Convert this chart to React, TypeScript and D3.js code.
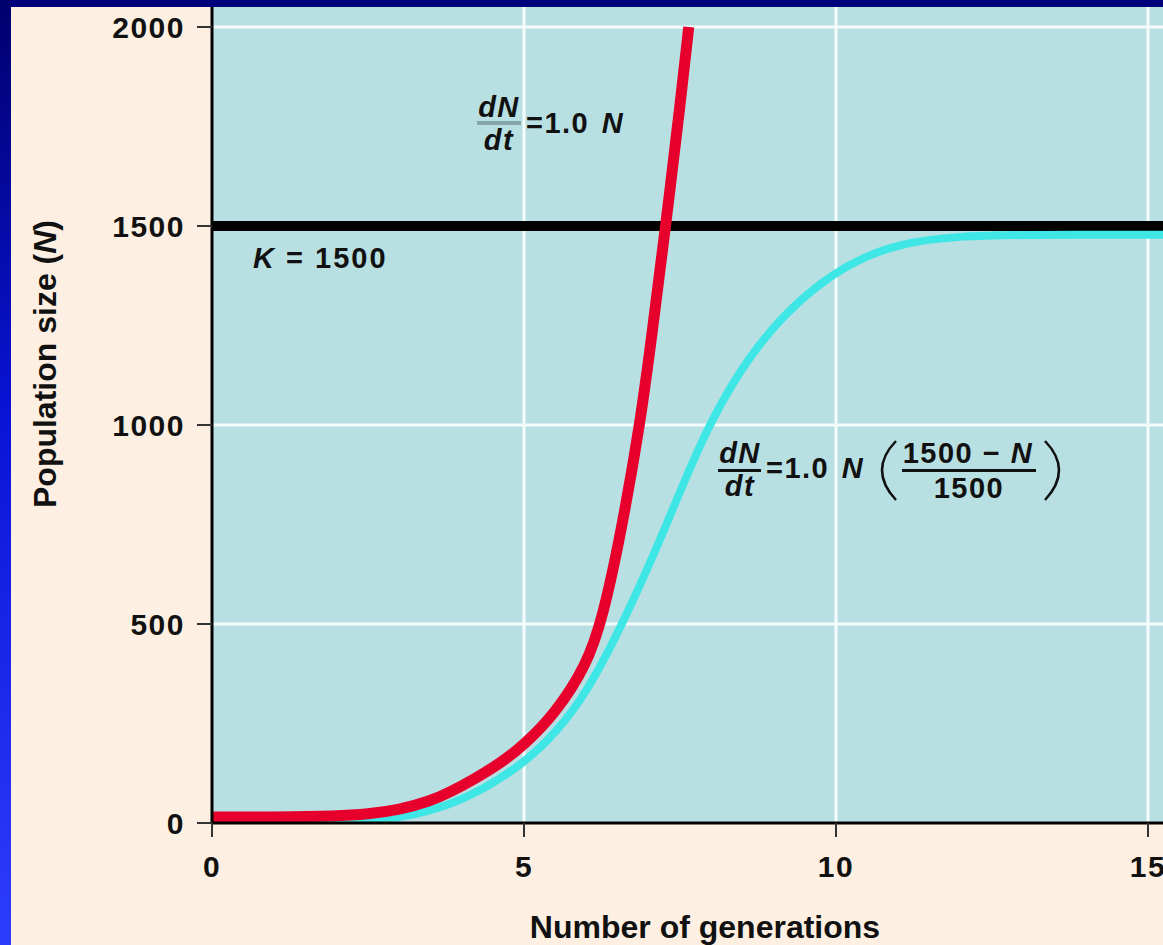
import React from "react";
import * as d3 from "d3";

// Axis ticks and grid positions
const xTicks = [0, 5, 10, 15];
const yTicks = [0, 500, 1000, 1500, 2000];
const gridX = [5, 10, 15];
const gridY = [500, 1000, 2000];
const carryingCapacity = 1500;

// Exponential growth: dN/dt = 1.0 N
const expT = [0, 1, 2, 2.5, 3, 3.5, 3.82, 4.2, 4.62, 5, 5.5, 6, 6.26, 6.55, 6.87, 7.06, 7.27, 7.51, 7.64];
const expN = [15, 15, 17, 22, 33, 55, 78, 110, 150, 196, 275, 395, 515, 725, 1010, 1240, 1500, 1815, 2000];

// Logistic growth: dN/dt = 1.0 N (1500 - N) / 1500
const logT = [0, 2, 2.7, 3.2, 3.8, 4.3, 5, 5.5, 6, 6.6, 7.3, 7.9, 8.8, 10, 11, 12, 13, 15.3];
const logN = [5, 5, 8, 18, 45, 80, 150, 225, 325, 505, 752, 990, 1228, 1395, 1458, 1475, 1478, 1478];

const FONT = "'Liberation Sans', Arial, Helvetica, sans-serif";

export default function App() {
  const W = 1163;
  const H = 945;
  const plotLeft = 212;
  const plotTop = 7;
  const plotBottom = 823;

  const x = d3.scaleLinear().domain([0, 15]).range([plotLeft, 1148]);
  const y = d3.scaleLinear().domain([0, 2000]).range([plotBottom, 27]);

  const line = d3
    .line<[number, number]>()
    .x((d) => x(d[0]))
    .y((d) => y(d[1]))
    .curve(d3.curveBasis);

  const expPath = line(expT.map((t, i) => [t, expN[i]] as [number, number])) || "";
  const logPath = line(logT.map((t, i) => [t, logN[i]] as [number, number])) || "";

  return (
    <svg
      width={W}
      height={H}
      viewBox={`0 0 ${W} ${H}`}
      style={{ position: "absolute", left: 0, top: 0, display: "block" }}
      fontFamily={FONT}
    >
      <defs>
        <linearGradient id="sideBar" x1="0" y1="0" x2="0" y2="1">
          <stop offset="0%" stopColor="#00006e" />
          <stop offset="45%" stopColor="#0a14d8" />
          <stop offset="100%" stopColor="#2d3dff" />
        </linearGradient>
        <clipPath id="plotClip">
          <rect x={plotLeft} y={plotTop} width={W - plotLeft} height={plotBottom - plotTop} />
        </clipPath>
      </defs>

      {/* page background */}
      <rect x={0} y={0} width={W} height={H} fill="#fdf0e2" />
      <rect x={0} y={0} width={W} height={7} fill="#00007c" />
      <rect x={0} y={0} width={11} height={H} fill="url(#sideBar)" />

      {/* plot panel */}
      <rect x={plotLeft} y={plotTop} width={W - plotLeft} height={plotBottom - plotTop} fill="#b8e0e3" />

      {/* grid */}
      <g stroke="#f4fbfb" strokeWidth={3}>
        {gridY.map((v) => (
          <line key={"gy" + v} x1={plotLeft} x2={W} y1={y(v)} y2={y(v)} />
        ))}
        {gridX.map((v) => (
          <line key={"gx" + v} x1={x(v)} x2={x(v)} y1={plotTop} y2={plotBottom} />
        ))}
      </g>

      {/* carrying capacity */}
      <line
        x1={plotLeft}
        x2={W}
        y1={y(carryingCapacity)}
        y2={y(carryingCapacity)}
        stroke="#000"
        strokeWidth={10}
      />

      {/* growth curves */}
      <g clipPath="url(#plotClip)" fill="none">
        <path d={logPath} stroke="#3fe6e6" strokeWidth={8} />
        <path d={expPath} stroke="#e8002c" strokeWidth={11} />
      </g>

      {/* axes */}
      <line x1={plotLeft} x2={plotLeft} y1={plotTop} y2={plotBottom + 1} stroke="#000" strokeWidth={3} />
      <line x1={plotLeft} x2={W} y1={plotBottom} y2={plotBottom} stroke="#000" strokeWidth={3} />

      {/* y ticks */}
      <g>
        {yTicks.map((v) => (
          <g key={"yt" + v}>
            <line x1={197} x2={plotLeft} y1={y(v)} y2={y(v)} stroke="#333" strokeWidth={2} />
            <text
              x={185}
              y={y(v)}
              dy="0.36em"
              textAnchor="end"
              fontSize={30}
              fontWeight="bold"
              letterSpacing={1.5}
              fill="#111"
            >
              {v}
            </text>
          </g>
        ))}
      </g>

      {/* x ticks */}
      <g>
        {xTicks.map((v) => (
          <g key={"xt" + v}>
            <line x1={x(v)} x2={x(v)} y1={plotBottom} y2={plotBottom + 14} stroke="#333" strokeWidth={2} />
            <text
              x={x(v)}
              y={877}
              textAnchor="middle"
              fontSize={30}
              fontWeight="bold"
              letterSpacing={1.5}
              fill="#111"
            >
              {v}
            </text>
          </g>
        ))}
      </g>

      {/* axis titles */}
      <text x={705} y={938} textAnchor="middle" fontSize={32} fontWeight="bold" fill="#111">
        Number of generations
      </text>
      <text
        transform="translate(56,364) rotate(-90)"
        textAnchor="middle"
        fontSize={32}
        fontWeight="bold"
        fill="#111"
      >
        Population size (<tspan fontStyle="italic">N</tspan>)
      </text>

      {/* K label */}
      <text x={253} y={268} fontSize={29} fontWeight="bold" letterSpacing={2} fill="#111">
        <tspan fontStyle="italic">K</tspan> = 1500
      </text>

      {/* exponential equation */}
      <g fontWeight="bold" fill="#111" fontSize={29} letterSpacing={1.5}>
        <text x={499} y={117} textAnchor="middle" fontStyle="italic">dN</text>
        <rect x={477} y={121} width={44} height={4} fill="#86a6a8" />
        <text x={499} y={150} textAnchor="middle" fontStyle="italic">dt</text>
        <text x={526} y={133}>
          =1.0 <tspan dx={3} fontStyle="italic">N</tspan>
        </text>
      </g>

      {/* logistic equation */}
      <g fontWeight="bold" fill="#111" fontSize={29} letterSpacing={1.5}>
        <text x={740} y={463} textAnchor="middle" fontStyle="italic">dN</text>
        <rect x={718} y={469} width={43} height={3} fill="#111" />
        <text x={740} y={496} textAnchor="middle" fontStyle="italic">dt</text>
        <text x={766} y={478}>
          =1.0 <tspan dx={3} fontStyle="italic">N</tspan>
        </text>
        <path d="M 896 441 Q 868 470 896 500" fill="none" stroke="#111" strokeWidth={2.5} />
        <text x={968} y={463} textAnchor="middle">
          1500 − <tspan fontStyle="italic">N</tspan>
        </text>
        <rect x={902} y={469} width={134} height={3} fill="#111" />
        <text x={969} y={498} textAnchor="middle">1500</text>
        <path d="M 1045 441 Q 1073 470 1045 500" fill="none" stroke="#111" strokeWidth={2.5} />
      </g>
    </svg>
  );
}
